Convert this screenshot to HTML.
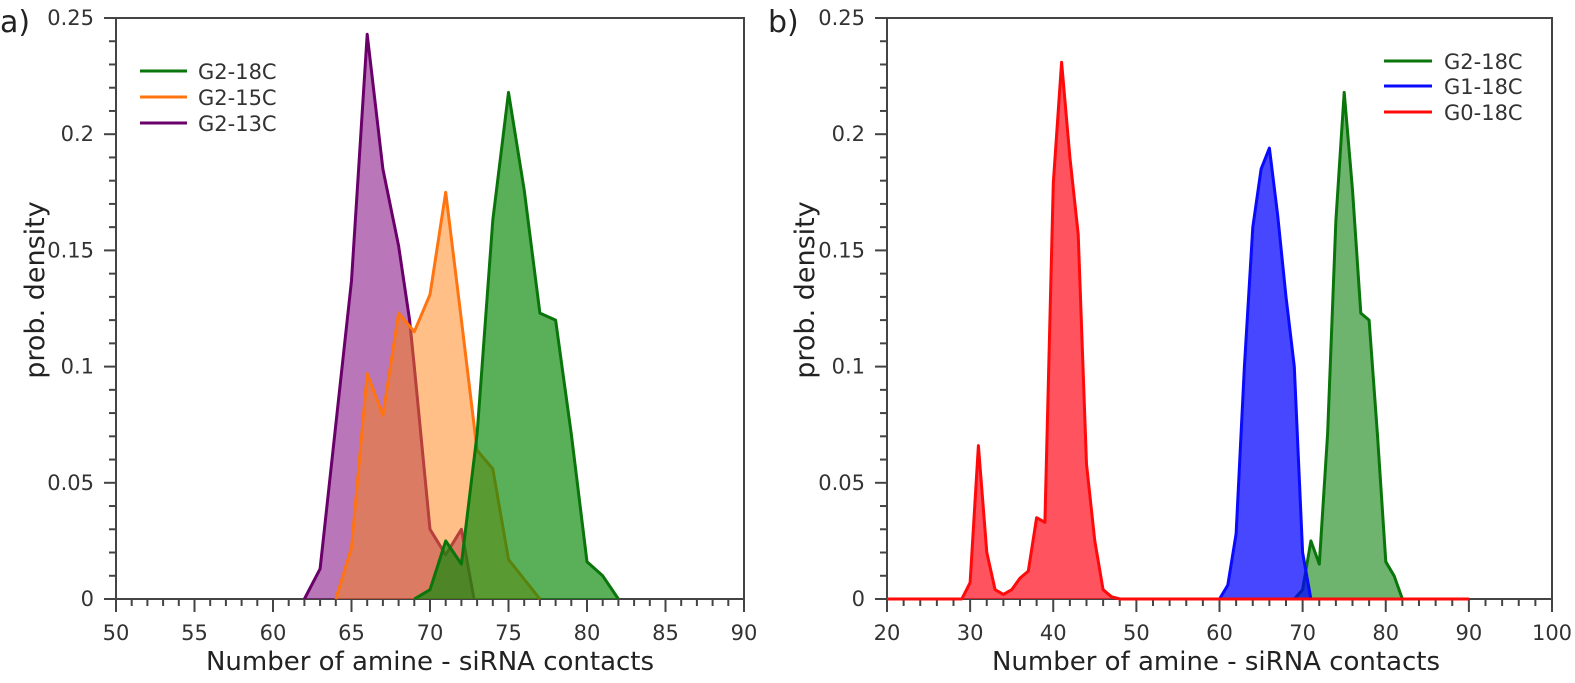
<!DOCTYPE html>
<html><head><meta charset="utf-8"><style>
body{margin:0;background:#fff;width:1575px;height:678px;overflow:hidden}
text{font-family:"DejaVu Sans","Liberation Sans",sans-serif;fill:#333}
</style></head><body>
<svg id="s" width="1575" height="678" xmlns="http://www.w3.org/2000/svg"></svg>
<script>
const S=document.getElementById('s');let h='';
const Y=p=>599-p*2324;
function axes(x0,x1,v0,v1,minorStep,majorStep){
  const X=v=>x0+(v-v0)*(x1-x0)/(v1-v0);
  h+=`<rect x="${x0}" y="18" width="${x1-x0}" height="581" fill="none" stroke="#444" stroke-width="2"/>`;
  for(let v=v0;v<=v1+1e-6;v+=minorStep){const maj=Math.abs((v-v0)/majorStep-Math.round((v-v0)/majorStep))<1e-6;
    h+=`<line x1="${X(v)}" x2="${X(v)}" y1="599" y2="${maj?612:606}" stroke="#444" stroke-width="2"/>`;
    if(maj)h+=`<text x="${X(v)}" y="640" font-size="21" text-anchor="middle">${v}</text>`;}
  for(let i=0;i<=25;i++){const p=i/100,maj=i%5==0;
    h+=`<line x1="${maj?x0-12:x0-7}" x2="${x0}" y1="${Y(p)}" y2="${Y(p)}" stroke="#444" stroke-width="2"/>`;
    if(maj)h+=`<text x="${x0-22}" y="${Y(p)+7}" font-size="21" text-anchor="end">${i==0?'0':String(+p.toFixed(2))}</text>`;}
  return X;}
function series(X,d,line,fill,op){let pts=d.map(([v,p])=>`${X(v).toFixed(1)},${Y(p).toFixed(1)}`).join(' ');
  h+=`<polygon points="${pts}" fill="${fill}" fill-opacity="${op}" stroke="none"/>`;
  h+=`<polyline points="${pts}" fill="none" stroke="${line}" stroke-width="3" stroke-linejoin="round"/>`;}
const g2=[[69,0],[70,.004],[71,.025],[72,.015],[73,.071],[74,.163],[75,.218],[76,.176],[77,.123],[78,.12],[79,.071],[80,.016],[81,.01],[82,0]];
let XL=axes(116,744,50,90,1,5);
series(XL,[[62,0],[63,.013],[64,.075],[65,.137],[66,.243],[67,.185],[68,.152],[68.7,.12],[69,.1],[70,.03],[71,.019],[72,.03],[72.8,0]],'#6a006a','#8b1a8b',0.6);
series(XL,[[64,0],[65,.022],[66,.097],[67,.079],[68,.123],[69,.115],[70,.131],[71,.175],[72,.12],[73,.064],[74,.056],[75,.017],[77,0]],'#ff7410','#ff7f0e',0.5);
series(XL,g2,'#0a750a','#0a8a0a',0.68);
let XR=axes(887,1552,20,100,2,10);
series(XR,g2,'#0a750a','#2a902a',0.68);
series(XR,[[60,0],[61,.006],[62,.028],[63,.1],[64,.16],[65,.185],[66,.194],[67,.165],[68,.13],[69,.1],[70,.02],[71,0]],'#0a0aff','#0000ff',0.72);
let red=[[20,0],[29,0],[30,.007],[31,.066],[32,.02],[33,.004],[34,.002],[35,.004],[36,.009],[37,.012],[38,.035],[39,.033],[40,.179],[41,.231],[42,.19],[43,.157],[44,.058],[45,.025],[46,.004],[47,.001],[48,0],[90,0]];
series(XR,red,'#ff0a0a','#ff1a2a',0.75);
[['G2-18C','#0a750a',71],['G2-15C','#ff7410',97],['G2-13C','#6a006a',123]].forEach(([t,c,y])=>{h+=`<line x1="140" x2="187" y1="${y}" y2="${y}" stroke="${c}" stroke-width="3"/><text x="198" y="${y+8}" font-size="21">${t}</text>`});
[['G2-18C','#0a750a',61],['G1-18C','#0a0aff',86],['G0-18C','#ff0a0a',112]].forEach(([t,c,y])=>{h+=`<line x1="1384" x2="1432" y1="${y}" y2="${y}" stroke="${c}" stroke-width="3"/><text x="1444" y="${y+8}" font-size="21">${t}</text>`});
h+=`<text x="430" y="670" font-size="26" text-anchor="middle" style="fill:#222">Number of amine - siRNA contacts</text>`;
h+=`<text x="1216" y="670" font-size="26" text-anchor="middle" style="fill:#222">Number of amine - siRNA contacts</text>`;
h+=`<text transform="translate(44,290) rotate(-90)" font-size="27" text-anchor="middle" style="fill:#222">prob. density</text>`;
h+=`<text transform="translate(814,290) rotate(-90)" font-size="27" text-anchor="middle" style="fill:#222">prob. density</text>`;
h+=`<text x="0" y="32" font-size="30" style="fill:#222">a)</text><text x="768" y="32" font-size="30" style="fill:#222">b)</text>`;
S.innerHTML=h;
</script>
</body></html>
